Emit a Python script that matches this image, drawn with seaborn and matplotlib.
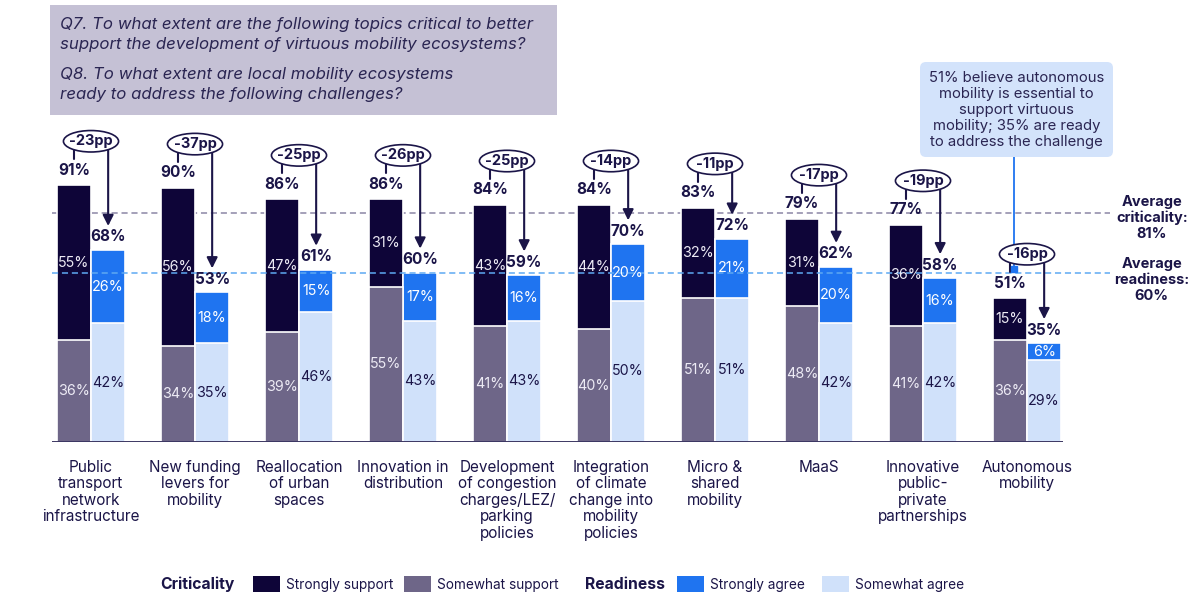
"""
Criticality vs readiness of mobility topics - stacked paired bars.
"""
import matplotlib

matplotlib.use("Agg")

import matplotlib.pyplot as plt
from matplotlib.patches import Ellipse, Rectangle, FancyBboxPatch
import seaborn as sns
import pandas as pd

topics = [
    "Public\ntransport\nnetwork\ninfrastructure",
    "New funding\nlevers for\nmobility",
    "Reallocation\nof urban\nspaces",
    "Innovation in\ndistribution",
    "Development\nof congestion\ncharges/LEZ/\nparking\npolicies",
    "Integration\nof climate\nchange into\nmobility\npolicies",
    "Micro &\nshared\nmobility",
    "MaaS",
    "Innovative\npublic-\nprivate\npartnerships",
    "Autonomous\nmobility",
]
crit_strong = [55, 56, 47, 31, 43, 44, 32, 31, 36, 15]
crit_somewhat = [36, 34, 39, 55, 41, 40, 51, 48, 41, 36]
ready_strong = [26, 18, 15, 17, 16, 20, 21, 20, 16, 6]
ready_somewhat = [42, 35, 46, 43, 43, 50, 51, 42, 42, 29]
gap_pp = [-23, -37, -25, -26, -25, -14, -11, -17, -19, -16]
avg_criticality = 81
avg_readiness = 60

NAVY = "#0E0538"
PURPLE = "#6E6688"
BLUE = "#1F74F0"
LIGHT = "#D0E1FA"
TEXT = "#1B1548"
CRIT_LINE = "#8C86A5"
READY_LINE = "#5EA9F2"

sns.set_theme(style="white")
plt.rcParams["font.family"] = ["Inter", "DejaVu Sans"]

crit_total = [a + b for a, b in zip(crit_strong, crit_somewhat)]
ready_total = [a + b for a, b in zip(ready_strong, ready_somewhat)]
n = len(topics)

df_total = pd.DataFrame({
    "topic": topics * 2,
    "measure": ["Criticality"] * n + ["Readiness"] * n,
    "value": crit_total + ready_total,
})
df_some = pd.DataFrame({
    "topic": topics * 2,
    "measure": ["Criticality"] * n + ["Readiness"] * n,
    "value": crit_somewhat + ready_somewhat,
})

W, H = 1192, 594
fig = plt.figure(figsize=(W / 100, H / 100), dpi=100)
ax = fig.add_axes([39 / W, 152 / H, 1092 / W, 296.5 / H])
inch = fig.dpi_scale_trans


def px(x, y):
    return x / 100, (H - y) / 100


# average lines (criticality behind bars, readiness on top)
ax.hlines(avg_criticality, -0.375, 9.8, color=CRIT_LINE, lw=1.1,
          linestyles=(0, (4, 2.5)), zorder=1)

sns.barplot(data=df_total, x="topic", y="value", hue="measure",
            palette={"Criticality": NAVY, "Readiness": BLUE}, saturation=1,
            width=0.66, edgecolor="white", linewidth=1.2,
            errorbar=None, legend=False, ax=ax, zorder=2)
sns.barplot(data=df_some, x="topic", y="value", hue="measure",
            palette={"Criticality": PURPLE, "Readiness": LIGHT}, saturation=1,
            width=0.66, edgecolor="white", linewidth=1.2,
            errorbar=None, legend=False, ax=ax, zorder=2)

ax.hlines(avg_readiness, -0.375, 9.8, color=READY_LINE, lw=1.1,
          linestyles=(0, (4, 2.5)), zorder=3)
ax.hlines(0, -0.375, 9.35, color=TEXT, lw=1.2, zorder=3)

off = 0.165
for i in range(n):
    xc, xr = i - off, i + off
    # segment labels
    ax.text(xc, crit_somewhat[i] / 2, f"{crit_somewhat[i]}%", ha="center",
            va="center", color="#EDEBF5", fontsize=10.3, zorder=4)
    ax.text(xc, crit_somewhat[i] + crit_strong[i] / 2, f"{crit_strong[i]}%",
            ha="center", va="center", color="#EDEBF5", fontsize=10.3, zorder=4)
    ax.text(xr, ready_somewhat[i] / 2, f"{ready_somewhat[i]}%", ha="center",
            va="center", color=TEXT, fontsize=10.3, zorder=4)
    ax.text(xr, ready_somewhat[i] + ready_strong[i] / 2, f"{ready_strong[i]}%",
            ha="center", va="center", color="white", fontsize=10.3, zorder=4)
    # totals
    ax.text(xc, crit_total[i] + 5.3, f"{crit_total[i]}%", ha="center",
            va="center", color=TEXT, fontsize=11, fontweight="bold", zorder=4)
    ax.text(xr, ready_total[i] + 4.6, f"{ready_total[i]}%", ha="center",
            va="center", color=TEXT, fontsize=11, fontweight="bold", zorder=4)
    # gap bubble with tick and arrow
    ye = crit_total[i] + 15.5
    ax.plot([xc, xc], [ye, crit_total[i] + 9.2], color=TEXT, lw=1.5,
            clip_on=False, zorder=5)
    ax.annotate("", xy=(xr, ready_total[i] + 8.5), xytext=(xr, ye),
                arrowprops=dict(arrowstyle="-|>", color=TEXT, lw=1.5,
                                mutation_scale=16, shrinkA=0, shrinkB=0),
                annotation_clip=False, zorder=5)
    ax.add_patch(Ellipse((i, ye), 0.53, 7.6, fc="white", ec=TEXT, lw=1.2,
                         clip_on=False, zorder=6))
    ax.text(i, ye, f"{gap_pp[i]}pp", ha="center", va="center", color=TEXT,
            fontsize=10.5, fontweight="bold", zorder=7)

# connector from callout box
ax.plot([8.875, 8.875], [100.9, avg_readiness + 1.2], color=BLUE, lw=1.3,
        clip_on=False, zorder=5)
ax.plot([8.875], [avg_readiness + 1.2], marker="s", ms=4, color=BLUE,
        clip_on=False, zorder=5)

# average labels
ax.text(10.2, 79.3, f"Average\ncriticality:\n{avg_criticality}%", ha="center",
        va="center", color=TEXT, fontsize=10.5, fontweight="bold",
        linespacing=1.15, clip_on=False)
ax.text(10.2, 57.4, f"Average\nreadiness:\n{avg_readiness}%", ha="center",
        va="center", color=TEXT, fontsize=10.5, fontweight="bold",
        linespacing=1.15, clip_on=False)

ax.set_xlim(-0.5, 10)
ax.set_ylim(0, 105)
ax.set_xlabel("")
ax.set_ylabel("")
ax.set_yticks([])
ax.tick_params(axis="x", length=0, pad=13, labelsize=11, labelcolor=TEXT)
for lab in ax.get_xticklabels():
    lab.set_linespacing(1.12)
sns.despine(ax=ax, left=True, bottom=True)

# header box
fig.patches.append(Rectangle(px(50, 115), 5.07, 1.10, transform=inch,
                             fc="#C5C1D5", ec="none", zorder=0))
header = [
    (25, "Q7. To what extent are the following topics critical to better"),
    (45, "support the development of virtuous mobility ecosystems?"),
    (75, "Q8. To what extent are local mobility ecosystems"),
    (95, "ready to address the following challenges?"),
]
for y, line in header:
    fig.text(*px(60, y), line, transform=inch, ha="left", va="center",
             fontsize=12.1, style="italic", color="#2A2552")

# callout box
fig.patches.append(FancyBboxPatch(px(920, 157), 1.93, 0.95, transform=inch,
                                  boxstyle="round,pad=0,rounding_size=0.06",
                                  fc="#D3E3FB", ec="none", zorder=0))
fig.text(*px(1016.5, 110), "51% believe autonomous\nmobility is essential to\n"
         "support virtuous\nmobility; 35% are ready\nto address the challenge",
         transform=inch, ha="center", va="center", fontsize=10.7,
         color="#2A2552", linespacing=1.2)

# legend
legend_base = 589
fig.text(*px(160, legend_base), "Criticality", transform=inch, ha="left",
         va="baseline", fontsize=11.3, fontweight="bold", color=TEXT)
fig.text(*px(585, legend_base), "Readiness", transform=inch, ha="left",
         va="baseline", fontsize=11.3, fontweight="bold", color=TEXT)
items = [
    (253, NAVY, "Strongly support"),
    (404, PURPLE, "Somewhat support"),
    (677, BLUE, "Strongly agree"),
    (822, LIGHT, "Somewhat agree"),
]
for x0, col, label in items:
    fig.patches.append(Rectangle(px(x0, 592), 0.27, 0.16,
                                 transform=inch, fc=col, ec="none"))
    fig.text(*px(x0 + 33, legend_base), label, transform=inch, ha="left",
             va="baseline", fontsize=9.8, color=TEXT)

fig.savefig("out.png", dpi=100)
